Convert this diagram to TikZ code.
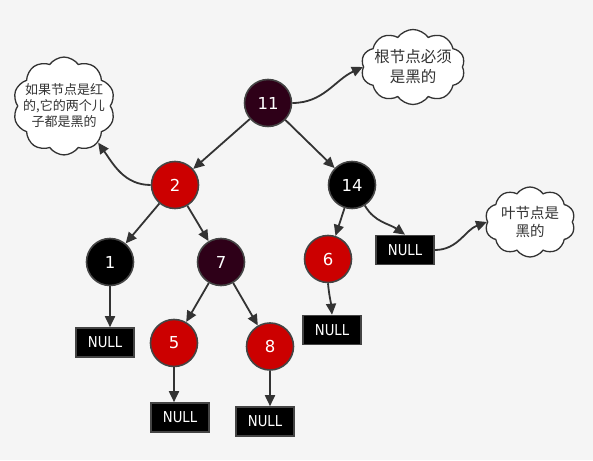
\documentclass[tikz,border=0pt]{standalone}
\usepackage{fontspec}
\setmainfont{DejaVu Sans}
\newfontfamily\cjk{Noto Sans CJK SC}
\newfontfamily\nulltextfont[FakeStretch=0.88]{DejaVu Sans}
\usetikzlibrary{shapes.symbols,arrows.meta}
\definecolor{bg}{HTML}{F5F5F5}
\definecolor{rbred}{HTML}{CC0000}
\definecolor{rbdark}{HTML}{2E0018}
\definecolor{edge}{HTML}{333333}
\definecolor{rim}{HTML}{444444}
\begin{document}
\begin{tikzpicture}[x=1pt,y=1pt,
  rbnode/.style={circle,draw=rim,line width=1.6pt,minimum size=47pt,inner sep=0pt,text=white,font=\fontsize{16.5}{16.5}\selectfont},
  rednode/.style={rbnode,fill=rbred},
  darknode/.style={rbnode,fill=rbdark},
  blacknode/.style={rbnode,fill=black},
  nullbox/.style={rectangle,draw=rim,fill=black,line width=1.6pt,minimum width=58pt,minimum height=29pt,inner sep=0pt,text=white,font=\nulltextfont\fontsize{15}{15}\selectfont},
  thought/.style={cloud,cloud puffs=10,cloud puff arc=110,cloud ignores aspect,draw=edge,fill=white,line width=1.3pt,text=edge,align=center},
  link/.style={draw=edge,line width=1.8pt,-{Triangle[length=11pt,width=10pt]}}
]
\fill[bg] (0,0) rectangle (593,460);
\useasboundingbox (0,0) rectangle (593,460);

\node[darknode]  (n11) at (268,357) {11};
\node[rednode]   (n2)  at (175,275) {2};
\node[blacknode] (n14) at (352,275) {14};
\node[blacknode] (n1)  at (110,198) {1};
\node[darknode]  (n7)  at (221,198) {7};
\node[rednode]   (n6)  at (328,201) {6};
\node[rednode]   (n5)  at (174,117) {5};
\node[rednode]   (n8)  at (270,113.5) {8};

\node[nullbox] (null1)  at (105,117.5) {NULL};
\node[nullbox] (null5)  at (180,42.5) {NULL};
\node[nullbox] (null8)  at (265,38.5) {NULL};
\node[nullbox] (null6)  at (332,130) {NULL};
\node[nullbox] (null14) at (405,210) {NULL};

\node[thought,inner xsep=-9pt,inner ysep=9pt,minimum width=102pt,minimum height=90pt,font=\cjk\fontsize{13}{16}\selectfont] (cloudL) at (64,354) {如果节点是红\\的,它的两个儿\\子都是黑的};
\node[thought,inner xsep=-8pt,inner ysep=2pt,minimum width=104pt,minimum height=75pt,font=\cjk\fontsize{15.5}{20}\selectfont] (cloudR) at (413,393) {根节点必须\\是黑的};
\node[thought,inner xsep=-1pt,inner ysep=1pt,minimum width=90pt,minimum height=70pt,font=\cjk\fontsize{14.5}{18.5}\selectfont] (cloudF) at (530,238) {叶节点是\\黑的};

\draw[link] (n11) -- (n2);
\draw[link] (n11) -- (n14);
\draw[link] (n2) -- (n1);
\draw[link] (n2) -- (n7);
\draw[link] (n7) -- (n5);
\draw[link] (n7) -- (n8);
\draw[link] (n14) -- (n6);
\draw[link] (n1.south) -- (n1.south |- null1.north);
\draw[link] (n5.south) -- (n5.south |- null5.north);
\draw[link] (n8.south) -- (n8.south |- null8.north);
\draw[link] (n6.south) to[out=-85,in=95] (null6.north);
\draw[link] (n14.-58) to[out=-60,in=145] (null14.north);

\draw[link] (n2.west) to[out=180,in=-55] (cloudL.-47);
\draw[link] (n11.east) to[out=0,in=205] (cloudR.west);
\draw[link] (null14.east) to[out=0,in=200] (cloudF.west);
\end{tikzpicture}
\end{document}
